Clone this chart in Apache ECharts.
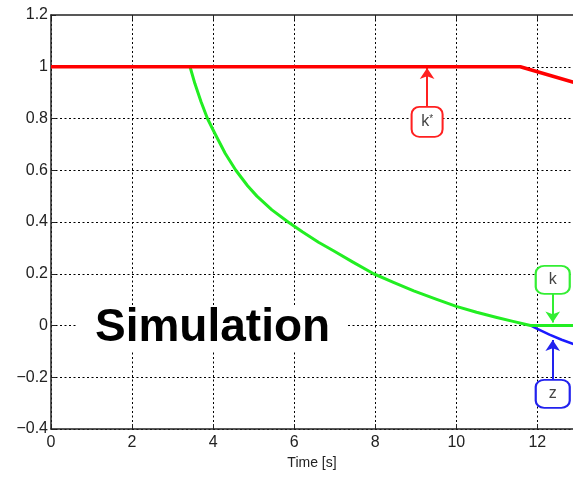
<!DOCTYPE html>
<html><head><meta charset="utf-8">
<script src="https://cdn.jsdelivr.net/npm/echarts@6/dist/echarts.min.js"></script>
<style>html,body{margin:0;padding:0;background:#fff}#c{width:573px;height:477px}</style>
</head><body><div id="c"></div>
<script>
const xMin = 0, xMax = 12.88, xStep = 2;
const yMin = -0.4, yMax = 1.2, yStep = 0.2;
const xTitle = 'Time [s]';
const bigLabel = 'Simulation';

const redX = [0, 11.58, 13];
const redY = [1, 1, 0.935];

const greenX = [3.43, 3.55, 3.70, 3.86, 4.05, 4.30, 4.56, 4.85, 5.08, 5.45, 5.85, 6.2, 6.6, 6.97, 7.45, 7.96, 8.45, 8.95, 9.5, 10.0, 10.5, 11.0, 11.4, 11.83, 12.0, 12.5, 13];
const greenY = [1.0, 0.935, 0.866, 0.8, 0.74, 0.665, 0.6, 0.54, 0.5, 0.447, 0.4, 0.362, 0.322, 0.289, 0.245, 0.2, 0.167, 0.134, 0.102, 0.074, 0.051, 0.031, 0.016, 0.0, 0.0, 0.0, 0.0];

const blueX = [11.83, 12.0, 12.3, 12.6, 13];
const blueY = [0, -0.013, -0.035, -0.055, -0.078];

// annotation boxes (label, anchor in data coords) and arrows
const annLabels = ['k*', 'k', 'z'];
const annX = [9.28, 12.38, 12.38];
const annY = [0.787, 0.176, -0.264];
const arrowFromY = [0.847, 0.122, -0.207];
const arrowToY = [0.995, 0.012, -0.056];

const FONT = '"Liberation Sans", Arial, Helvetica, sans-serif';
const zip = (xs, ys) => xs.map((x, i) => [x, ys[i]]);
const fmt = v => String(parseFloat(Number(v).toFixed(1))).replace('-', '\u2212');

function annotate(i, color) {
  return {
    markPoint: {
      silent: true,
      animation: false,
      symbol: 'roundRect',
      symbolSize: i === 0 ? [31, 30] : [34, 28],
      itemStyle: { color: '#fff', borderColor: color, borderWidth: 2 },
      label: {
        show: true, position: 'inside', color: '#444', fontFamily: FONT, fontSize: 16,
        formatter: i === 0 ? '{a|k}{b|*}' : annLabels[i],
        rich: { a: { fontSize: 16, color: '#444', fontFamily: FONT }, b: { fontSize: 10, color: '#444', verticalAlign: 'top', padding: [0, 0, 6, 0] } }
      },
      data: [{ coord: [annX[i], annY[i]], value: annLabels[i] }]
    },
    markLine: {
      silent: true,
      animation: false,
      symbol: ['none', 'arrow'],
      symbolSize: 11,
      label: { show: false },
      lineStyle: { color: color, width: 2, type: 'solid' },
      emphasis: { disabled: true },
      data: [[{ coord: [annX[i], arrowFromY[i]] }, { coord: [annX[i], arrowToY[i]] }]]
    }
  };
}

const chart = echarts.init(document.getElementById('c'), null, { renderer: 'canvas' });
const gridLine = { show: true, showMaxLine: false, lineStyle: { color: '#000', width: 1, type: [2, 2.5] } };
chart.setOption({
  animation: false,
  backgroundColor: '#fff',
  title: {
    text: bigLabel, left: 78, top: 305, padding: [0, 17], backgroundColor: '#fff',
    textStyle: { fontFamily: FONT, fontSize: 46, fontWeight: 'bold', color: '#000', lineHeight: 47 }
  },
  grid: { left: 51, right: 0, top: 15, bottom: 48, containLabel: false },
  xAxis: [{
    type: 'value', min: xMin, max: xMax, interval: xStep,
    name: xTitle, nameLocation: 'middle', nameGap: 23,
    nameTextStyle: { fontFamily: FONT, fontSize: 14, color: '#222' },
    axisLine: { show: true, onZero: false, lineStyle: { color: '#222', width: 1.5 } },
    axisTick: { show: true, inside: true, length: 5, lineStyle: { color: '#222' } },
    axisLabel: { fontFamily: FONT, fontSize: 16, color: '#222', margin: 6, showMaxLabel: false, formatter: fmt },
    splitLine: gridLine
  }, {
    type: 'value', position: 'top', min: xMin, max: xMax, interval: xStep,
    axisLine: { show: true, onZero: false, lineStyle: { color: '#222', width: 1.5 } },
    axisTick: { show: true, inside: true, length: 5, lineStyle: { color: '#222' } },
    axisLabel: { show: false }, splitLine: { show: false }
  }],
  yAxis: {
    type: 'value', min: yMin, max: yMax, interval: yStep,
    axisLine: { show: true, onZero: false, lineStyle: { color: '#222', width: 1.5 } },
    axisTick: { show: true, inside: true, length: 5, lineStyle: { color: '#222' } },
    axisLabel: { fontFamily: FONT, fontSize: 16, color: '#222', margin: 3, formatter: fmt },
    splitLine: gridLine
  },
  series: [
    Object.assign({ type: 'line', name: 'z', data: zip(blueX, blueY), showSymbol: false, symbol: 'none',
      lineStyle: { color: '#1a1aff', width: 2.5 }, z: 3 }, annotate(2, '#2222ee')),
    Object.assign({ type: 'line', name: 'k', data: zip(greenX, greenY), showSymbol: false, symbol: 'none',
      lineStyle: { color: '#22ee22', width: 3, join: 'round' }, z: 4 }, annotate(1, '#33ee33')),
    Object.assign({ type: 'line', name: 'k*', data: zip(redX, redY), showSymbol: false, symbol: 'none',
      lineStyle: { color: '#ff0000', width: 3.5 }, z: 5 }, annotate(0, '#ff2020'))
  ]
});
</script></body></html>
